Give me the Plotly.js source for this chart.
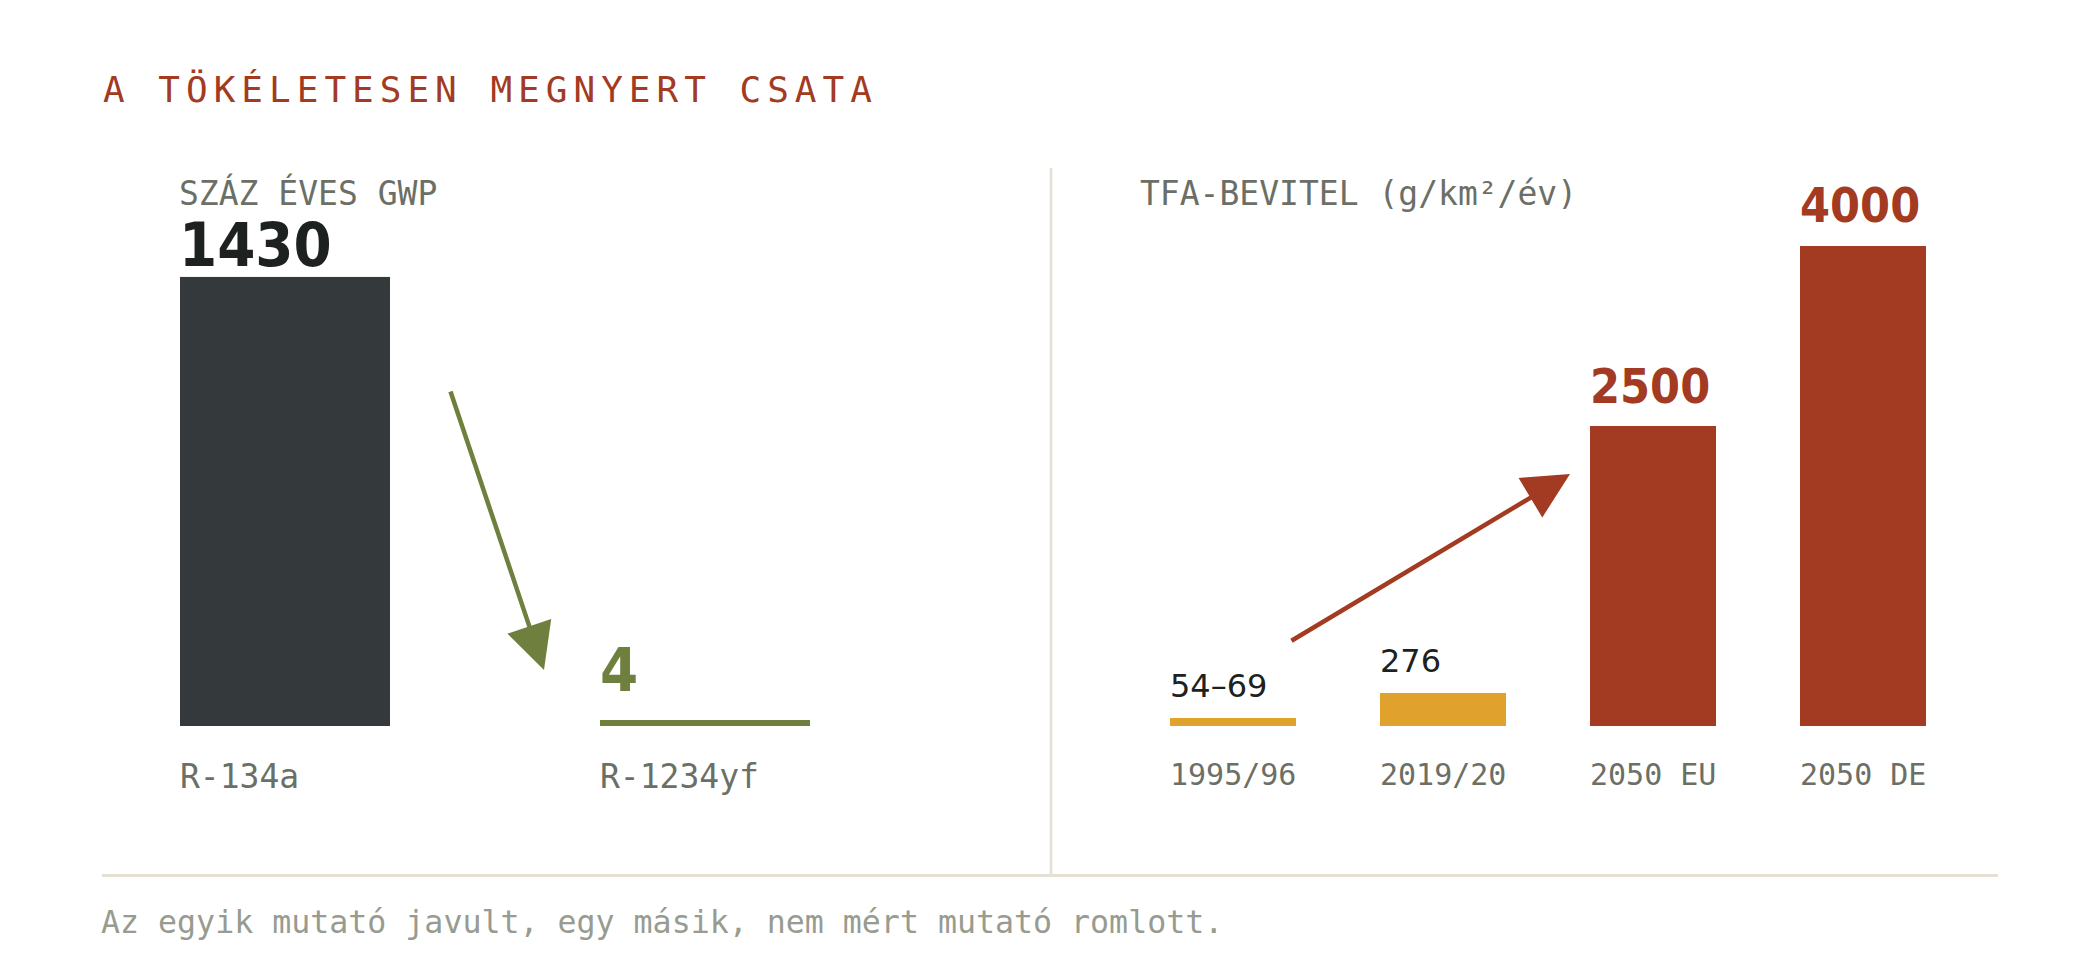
<!DOCTYPE html>
<html>
<head>
<meta charset="utf-8">
<script src="https://cdn.plot.ly/plotly-3.0.1.min.js"></script>
<style>
  html, body { margin: 0; padding: 0; background: #ffffff; }
  #chart { width: 2100px; height: 960px; }
  .gtitle { letter-spacing: 6px; }
</style>
</head>
<body>
<div id="chart"></div>
<script>
// ---- data ----
const gwpCategories = ['R-134a', 'R-1234yf'];
const gwpValues = [1430, 4];
const gwpLabels = ['1430', '4'];

const tfaCategories = ['1995/96', '2019/20', '2050 EU', '2050 DE'];
const tfaValues = [69, 276, 2500, 4000];
const tfaLabels = ['54–69', '276', '2500', '4000'];

const chartTitle = 'A TÖKÉLETESEN MEGNYERT CSATA';
const gwpHeader = 'SZÁZ ÉVES GWP';
const tfaHeader = 'TFA-BEVITEL (g/km²/év)';
const footerText = 'Az egyik mutató javult, egy másik, nem mért mutató romlott.';

// ---- style ----
const W = 2100, H = 960;
const X = px => px / W;
const Y = py => 1 - py / H;

const MONO = 'DejaVu Sans Mono';
const BOLD = 'DejaVu Sans Condensed, DejaVu Sans';
const SANS = 'DejaVu Sans';
const C_DARK = '#34393c';
const C_GREEN = '#6f7f3e';
const C_RUST = '#a33a22';
const C_GOLD = '#e0a22c';
const C_GRAY = '#6b6f66';
const C_FOOT = '#979b90';
const C_INK = '#1d2220';
const C_RULE = '#e4e0d3';

const gwpColors = [C_DARK, C_GREEN];
const tfaColors = [C_GOLD, C_GOLD, C_RUST, C_RUST];

// bar geometry (category units)
const gwpBarWidth = 0.5;
const tfaBarWidth = 0.6;
const gwpPxPerCat = 420;
const tfaPxPerCat = 210;
// thin bar outline so the tiny value stays visible
const gwpOutline = gwpValues.map(v => (v / Math.max(...gwpValues) < 0.01 ? 9.5 : 0));

const traces = [
  {
    type: 'bar',
    x: gwpCategories,
    y: gwpValues,
    xaxis: 'x', yaxis: 'y',
    width: gwpOutline.map(o => gwpBarWidth - o / gwpPxPerCat),
    marker: {
      color: gwpColors,
      line: { color: gwpColors, width: gwpOutline }
    },
    hoverinfo: 'x+y',
    showlegend: false
  },
  {
    type: 'bar',
    x: tfaCategories,
    y: tfaValues,
    xaxis: 'x2', yaxis: 'y2',
    width: tfaBarWidth,
    marker: { color: tfaColors, line: { width: 0 } },
    hoverinfo: 'x+y',
    showlegend: false
  }
];

const gwpHalf = gwpBarWidth * gwpPxPerCat / 2;
const tfaHalf = tfaBarWidth * tfaPxPerCat / 2;

const annotations = [];

// value labels
const gwpLabelColor = [C_INK, C_GREEN];
const gwpLabelShift = [-5, 18];
const gwpLabelX = [-3.5, -2.5];
gwpLabels.forEach((t, i) => {
  annotations.push({
    xref: 'x', yref: 'y', x: i, y: gwpValues[i],
    text: t, showarrow: false,
    xanchor: 'left', yanchor: 'bottom',
    xshift: -gwpHalf + gwpLabelX[i], yshift: gwpLabelShift[i],
    font: { family: BOLD, size: 61, color: gwpLabelColor[i], weight: 'bold' }
  });
});

tfaLabels.forEach((t, i) => {
  const big = tfaValues[i] >= 1000;
  annotations.push({
    xref: 'x2', yref: 'y2', x: i, y: tfaValues[i],
    text: t, showarrow: false,
    xanchor: 'left', yanchor: 'bottom',
    xshift: -tfaHalf - 2.5, yshift: 10.5,
    font: big
      ? { family: BOLD, size: 48, color: C_RUST, weight: 'bold' }
      : { family: SANS, size: 32, color: C_INK }
  });
});

// panel headers
annotations.push({
  xref: 'paper', yref: 'paper', x: X(177), y: Y(214.8),
  xanchor: 'left', yanchor: 'bottom', showarrow: false,
  text: gwpHeader, font: { family: MONO, size: 33, color: C_GRAY }
});
annotations.push({
  xref: 'paper', yref: 'paper', x: X(1138), y: Y(214.8),
  xanchor: 'left', yanchor: 'bottom', showarrow: false,
  text: tfaHeader, font: { family: MONO, size: 33, color: C_GRAY }
});

// footer
annotations.push({
  xref: 'paper', yref: 'paper', x: X(99), y: Y(942),
  xanchor: 'left', yanchor: 'bottom', showarrow: false,
  text: footerText, font: { family: MONO, size: 31.6, color: C_FOOT }
});

// arrows
annotations.push({
  xref: 'paper', yref: 'paper', x: X(544), y: Y(670),
  ax: 450 - 544, ay: 390 - 670, axref: 'pixel', ayref: 'pixel',
  text: '', showarrow: true, arrowhead: 2, arrowsize: 2.05, arrowwidth: 4.5,
  arrowcolor: C_GREEN, standoff: 0
});
annotations.push({
  xref: 'paper', yref: 'paper', x: X(1570), y: Y(474),
  ax: 1290 - 1570, ay: 641.7 - 474, axref: 'pixel', ayref: 'pixel',
  text: '', showarrow: true, arrowhead: 2, arrowsize: 2.05, arrowwidth: 4.5,
  arrowcolor: C_RUST, standoff: 0
});

const shapes = [
  { type: 'line', xref: 'paper', yref: 'paper', x0: X(1051), x1: X(1051), y0: Y(168), y1: Y(875),
    line: { color: C_RULE, width: 2.5 } },
  { type: 'line', xref: 'paper', yref: 'paper', x0: X(102), x1: X(1998), y0: Y(875.5), y1: Y(875.5),
    line: { color: C_RULE, width: 3 } }
];

const catAxis = (domain, n, shift, size) => ({
  type: 'category', domain: domain, range: [-0.5, n - 0.5],
  showgrid: false, zeroline: false, showline: false,
  ticks: '', ticklabelstandoff: 28,
  ticklabelposition: 'outside right', ticklabelshift: shift,
  tickfont: { family: MONO, size: size, color: C_GRAY },
  fixedrange: true
});

const layout = {
  width: W, height: H,
  margin: { l: 0, r: 0, t: 0, b: 0, pad: 0 },
  paper_bgcolor: '#ffffff', plot_bgcolor: 'rgba(0,0,0,0)',
  showlegend: false,
  title: {
    text: chartTitle,
    xref: 'paper', yref: 'container', x: X(103), xanchor: 'left',
    y: Y(102), yanchor: 'bottom',
    font: { family: MONO, size: 36, color: C_RUST }
  },
  xaxis: Object.assign(catAxis([X(75), X(915)], 2, -gwpHalf, 33), { anchor: 'y' }),
  yaxis: { domain: [Y(726), Y(276.7)], range: [0, 1430], visible: false, fixedrange: true },
  xaxis2: Object.assign(catAxis([X(1128), X(1968)], 4, -tfaHalf, 30), { anchor: 'y2' }),
  yaxis2: { domain: [Y(726), Y(246)], range: [0, 4000], visible: false, fixedrange: true },
  annotations: annotations,
  shapes: shapes,
  bargap: 0
};

Plotly.newPlot('chart', traces, layout, { displayModeBar: false, staticPlot: true });
</script>
</body>
</html>
